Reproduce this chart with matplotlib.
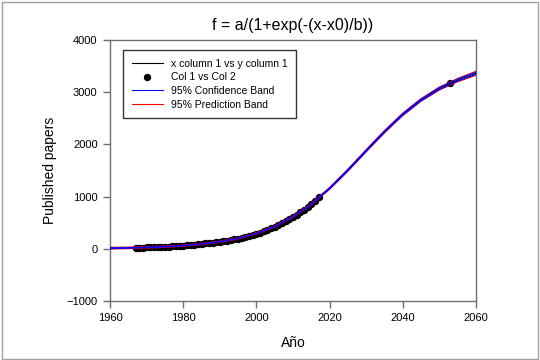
import matplotlib
matplotlib.use("Agg")
import matplotlib.pyplot as plt
from matplotlib.patches import Rectangle

plt.rcParams["font.family"] = ["Liberation Sans", "DejaVu Sans"]

# datos observados
years = [1967, 1968, 1969, 1970, 1971, 1972, 1973, 1974, 1975, 1976, 1977, 1978, 1979,
         1980, 1981, 1982, 1983, 1984, 1985, 1986, 1987, 1988, 1989, 1990, 1991, 1992,
         1993, 1994, 1995, 1996, 1997, 1998, 1999, 2000, 2001, 2002, 2003, 2004, 2005,
         2006, 2007, 2008, 2009, 2010, 2011, 2012, 2013, 2014, 2015, 2016, 2017, 2053]
papers = [18, 20, 22, 25, 27, 30, 33, 35, 38, 42, 46, 50, 55,
          60, 64, 70, 78, 86, 95, 108, 105, 112, 122, 132, 142, 154,
          166, 180, 195, 210, 226, 244, 264, 288, 308, 332, 360, 390, 420,
          455, 490, 525, 565, 605, 650, 700, 750, 800, 860, 920, 985, 3180]

fit_x = [1960, 1965, 1970, 1975, 1980, 1985, 1990, 1995, 2000, 2005, 2010,
         2015, 2020, 2025, 2030, 2035, 2040, 2045, 2050, 2055, 2060]
fit_y = [11, 17, 26, 40, 60, 90, 134, 200, 295, 429, 613,
         855, 1155, 1503, 1875, 2240, 2572, 2849, 3067, 3230, 3360]
conf_upper = [19, 23, 31, 45, 65, 95, 139, 205, 300, 434, 619,
              862, 1165, 1515, 1888, 2253, 2586, 2864, 3084, 3249, 3382]
conf_lower = [3, 11, 21, 35, 55, 85, 129, 195, 290, 424, 607,
              848, 1145, 1491, 1862, 2227, 2558, 2834, 3050, 3211, 3338]
pred_upper = [28, 32, 40, 53, 73, 103, 147, 213, 308, 442, 627,
              870, 1173, 1523, 1896, 2262, 2596, 2875, 3096, 3262, 3398]
pred_lower = [-6, 2, 12, 27, 47, 77, 121, 187, 282, 416, 599,
              840, 1137, 1483, 1854, 2218, 2548, 2823, 3038, 3198, 3322]

fig = plt.figure(figsize=(5.4, 3.6), dpi=100)
fig.patches.append(Rectangle((0.003, 0.004), 0.993, 0.99, transform=fig.transFigure,
                             fill=False, edgecolor="#a0a0a0", linewidth=1))
ax = fig.add_axes([0.204, 0.164, 0.677, 0.725])

ax.plot(years, papers, "o", color="black", markersize=4.3, label="Col 1 vs Col 2", zorder=2)
ax.plot(fit_x, fit_y, color="black", linewidth=0.8, label="x column 1 vs y column 1", zorder=3)
ax.plot(fit_x, pred_upper, color="red", linewidth=0.8, label="95% Prediction Band", zorder=4)
ax.plot(fit_x, pred_lower, color="red", linewidth=0.8, zorder=4)
ax.plot(fit_x, conf_upper, color="blue", linewidth=0.8, label="95% Confidence Band", zorder=5)
ax.plot(fit_x, conf_lower, color="blue", linewidth=0.8, zorder=5)

ax.set_xlim(1960, 2060)
ax.set_ylim(-1000, 4000)
ax.set_xticks([1960, 1980, 2000, 2020, 2040, 2060])
ax.set_yticks([-1000, 0, 1000, 2000, 3000, 4000])
ax.tick_params(direction="out", length=5, width=1, color="#707070", labelsize=8, pad=4)
for s in ax.spines.values():
    s.set_color("#707070")
    s.set_linewidth(1)

ax.set_title("f = a/(1+exp(-(x-x0)/b))", fontsize=11.5, pad=7)
ax.set_xlabel("Año", fontsize=10, labelpad=9)
ax.set_ylabel("Published papers", fontsize=10, labelpad=7)

handles, labels = ax.get_legend_handles_labels()
order = [1, 0, 3, 2]
leg = ax.legend([handles[i] for i in order], [labels[i] for i in order],
                loc="upper left", bbox_to_anchor=(0.036, 0.96), borderaxespad=0,
                fontsize=7.5, frameon=True, fancybox=False, handlelength=3.0,
                labelspacing=0.35, borderpad=0.8, handletextpad=0.8)
leg.get_frame().set_edgecolor("black")
leg.get_frame().set_linewidth(1)

fig.savefig("out.png", dpi=100)
